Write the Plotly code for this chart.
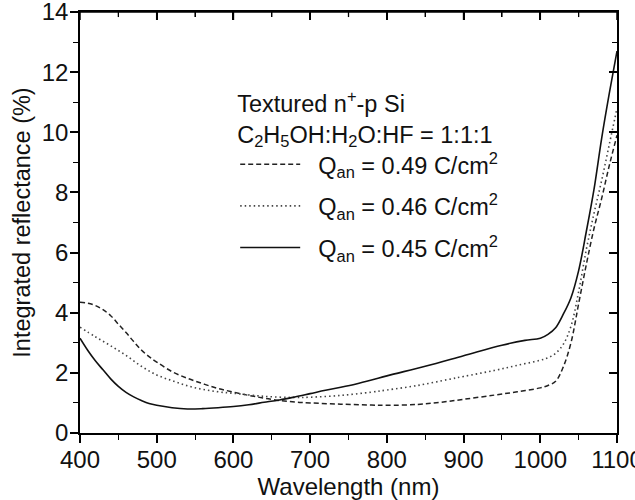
import plotly.graph_objects as go

# Data
wl_049 = [400, 410, 420, 430, 440, 450, 460, 470, 480, 490, 500, 520, 540, 560, 580, 600,
          620, 640, 660, 680, 700, 740, 780, 800, 840, 870, 900, 940, 970, 1000,
          1010, 1020, 1030, 1040, 1050, 1060, 1070, 1080, 1090, 1100]
r_049 = [4.35, 4.32, 4.24, 4.1, 3.9, 3.62, 3.34, 3.04, 2.76, 2.54, 2.36, 2.04, 1.82, 1.64,
         1.48, 1.36, 1.25, 1.16, 1.08, 1.03, 1.0, 0.96, 0.93, 0.92, 0.95, 1.02, 1.12, 1.26,
         1.37, 1.5, 1.58, 1.72, 2.2, 3.0, 4.3, 5.6, 6.8, 7.8, 8.9, 9.9]

wl_046 = [400, 420, 440, 460, 480, 500, 520, 540, 560, 580, 600, 640, 680, 700, 740, 780,
          800, 840, 880, 900, 940, 970, 1000, 1010, 1020, 1030, 1040, 1050, 1060, 1070,
          1080, 1090, 1100]
r_046 = [3.52, 3.2, 2.9, 2.58, 2.22, 1.93, 1.74, 1.57, 1.45, 1.37, 1.32, 1.22, 1.18, 1.19,
         1.25, 1.36, 1.43, 1.58, 1.78, 1.88, 2.08, 2.25, 2.42, 2.5, 2.65, 2.95, 3.55, 4.7,
         6.1, 7.3, 8.4, 9.6, 10.8]

wl_045 = [400, 410, 420, 430, 440, 450, 460, 470, 480, 490, 500, 520, 540, 560, 580, 600,
          620, 640, 660, 680, 700, 720, 740, 760, 780, 800, 850, 900, 950, 980, 1000,
          1010, 1020, 1030, 1040, 1050, 1060, 1070, 1080, 1090, 1100]
r_045 = [3.15, 2.75, 2.4, 2.1, 1.8, 1.55, 1.35, 1.2, 1.08, 0.98, 0.92, 0.84, 0.8, 0.81,
         0.84, 0.88, 0.94, 1.02, 1.1, 1.2, 1.31, 1.42, 1.52, 1.63, 1.76, 1.9, 2.22, 2.57,
         2.92, 3.08, 3.15, 3.28, 3.5, 3.95, 4.5, 5.4, 6.7, 8.1, 9.8, 11.3, 12.7]

labels = ["&nbsp;&nbsp;Q<sub>an</sub> = 0.49 C/cm<sup>2</sup>",
          "&nbsp;&nbsp;Q<sub>an</sub> = 0.46 C/cm<sup>2</sup>",
          "&nbsp;&nbsp;Q<sub>an</sub> = 0.45 C/cm<sup>2</sup>"]
legend_title = "Textured n<sup>+</sup>-p Si<br>C<sub>2</sub>H<sub>5</sub>OH:H<sub>2</sub>O:HF = 1:1:1"

x_ticks = [400, 500, 600, 700, 800, 900, 1000, 1100]
x_minor = [450, 550, 650, 750, 850, 950, 1050]
y_ticks = [0, 2, 4, 6, 8, 10, 12, 14]

FONT = "Liberation Sans, Arial, sans-serif"

fig = go.Figure()
fig.add_trace(go.Scatter(x=wl_049, y=r_049, mode="lines", name=labels[0], legendgroup="a",
                         line=dict(color="#222", width=1.5, dash="5px,3px", shape="spline")))
fig.add_trace(go.Scatter(x=wl_046, y=r_046, mode="lines", name=labels[1], legendgroup="b",
                         line=dict(color="#444", width=1.6, dash="1.5px,3px", shape="spline")))
fig.add_trace(go.Scatter(x=wl_045, y=r_045, mode="lines", name=labels[2], legendgroup="c",
                         line=dict(color="#111", width=1.6, shape="spline")))
# invisible traces that carry the top / right axes (inside ticks)
fig.add_trace(go.Scatter(x=wl_045, y=r_045, mode="lines", xaxis="x2", yaxis="y",
                         line=dict(width=0), opacity=0, showlegend=False, hoverinfo="skip"))
fig.add_trace(go.Scatter(x=wl_045, y=r_045, mode="lines", xaxis="x", yaxis="y2",
                         line=dict(width=0), opacity=0, showlegend=False, hoverinfo="skip"))

common = dict(showgrid=False, zeroline=False, showline=True, linewidth=1.6,
              linecolor="black", automargin=False)

# frame on top edge plus inside ticks (drawn as layout decorations)
frame = [dict(type="line", xref="paper", yref="paper", x0=0, x1=1, y0=1, y1=1,
              line=dict(color="black", width=1.6), layer="above")]
for xv in x_ticks:
    frame.append(dict(type="line", xref="x", yref="paper", x0=xv, x1=xv, y0=1, y1=0.981,
                      line=dict(color="black", width=1.5), layer="above"))
for xv in x_minor:
    frame.append(dict(type="line", xref="x", yref="paper", x0=xv, x1=xv, y0=1, y1=0.988,
                      line=dict(color="black", width=1.3), layer="above"))

fig.update_layout(
    width=635, height=500,
    margin=dict(l=80, r=18, t=12, b=67),
    paper_bgcolor="white", plot_bgcolor="white",
    font=dict(family=FONT, size=24, color="#111"),
    shapes=frame,
    xaxis=dict(range=[400, 1100], tickvals=x_ticks, ticks="outside", ticklen=8, tickwidth=1.5,
               tickcolor="black", ticklabeloverflow="allow", ticklabelstandoff=-4, mirror=True,
               minor=dict(dtick=50, ticks="outside", ticklen=5, tickwidth=1.3, tickcolor="black"),
               title=dict(text="Wavelength (nm)", standoff=2, font=dict(size=24)),
               tickfont=dict(size=24), **common),
    yaxis=dict(range=[0, 14], tickvals=y_ticks, ticks="outside", ticklen=8, tickwidth=1.5,
               tickcolor="black", ticklabeloverflow="allow", ticklabelstandoff=-3, mirror=True,
               minor=dict(dtick=1, ticks="outside", ticklen=5, tickwidth=1.3, tickcolor="black"),
               title=dict(text="Integrated reflectance (%)", standoff=4, font=dict(size=23.5)),
               tickfont=dict(size=24), **common),
    xaxis2=dict(range=[400, 1100], overlaying="x", side="top", tickvals=x_ticks, anchor="y",
                ticks="inside", ticklen=8, tickwidth=1.5, tickcolor="black", showticklabels=False,
                minor=dict(dtick=50, ticks="inside", ticklen=5, tickwidth=1.3, tickcolor="black"),
                **common),
    yaxis2=dict(range=[0, 14], overlaying="y", side="right", tickvals=y_ticks, anchor="x",
                ticks="inside", ticklen=8, tickwidth=1.5, tickcolor="black", showticklabels=False,
                minor=dict(dtick=1, ticks="inside", ticklen=5, tickwidth=1.3, tickcolor="black"),
                **common),
    legend=dict(x=0.289, y=0.835, xanchor="left", yanchor="top", bgcolor="rgba(0,0,0,0)",
                font=dict(size=23.5, family=FONT), itemwidth=60, tracegroupgap=8,
                title=dict(text=legend_title, side="top", font=dict(size=23.5, family=FONT))),
    showlegend=True,
)

fig.write_html("out.html", config={"displayModeBar": False},
               post_script="document.body.style.margin='0';")
